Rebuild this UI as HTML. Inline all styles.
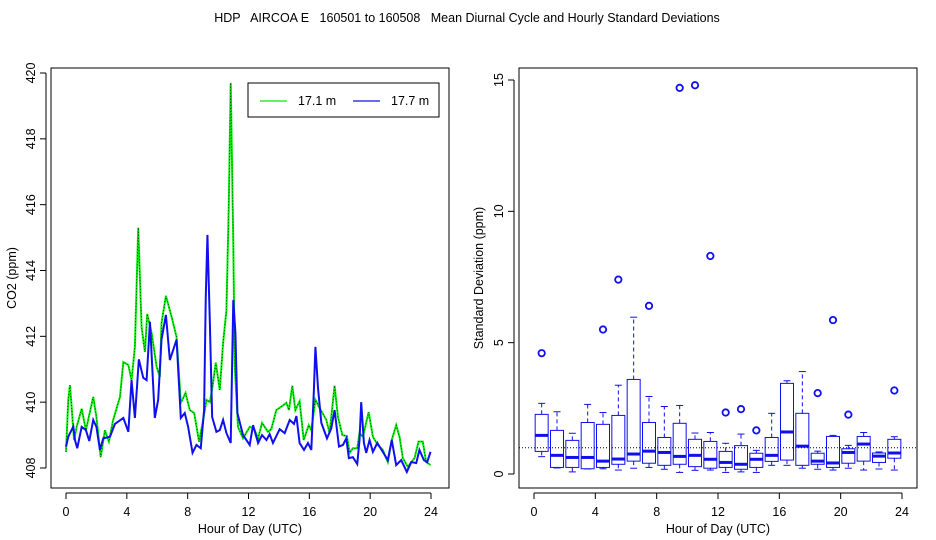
<!DOCTYPE html>
<html><head><meta charset="utf-8"><style>
html,body{margin:0;padding:0;background:#fff;}
svg{display:block;font-family:"Liberation Sans",Arial,sans-serif;}
</style></head><body>
<svg id="chart" width="936" height="540" viewBox="0 0 936 540">
<text x="467" y="22" font-size="12.5" text-anchor="middle" style="white-space:pre" xml:space="preserve">HDP   AIRCOA E   160501 to 160508   Mean Diurnal Cycle and Hourly Standard Deviations</text>
<g id="left"></g>
<g id="right"></g>
</svg>
<script>
const hoursG=[0,0.15,0.26,0.37,0.53,0.7,1.03,1.31,1.79,2.0,2.28,2.56,2.82,3.1,3.55,3.77,4.1,4.31,4.53,4.75,4.97,5.19,5.34,5.63,5.96,6.17,6.28,6.57,6.94,7.27,7.55,7.86,8.14,8.43,8.75,9.02,9.24,9.46,9.63,9.85,10.11,10.33,10.55,10.7,10.83,10.99,11.1,11.31,11.64,12.08,12.36,12.63,12.89,13.28,13.5,13.83,14.27,14.49,14.66,14.88,15.08,15.36,15.63,15.96,16.13,16.4,16.68,17.12,17.33,17.66,17.88,18.17,18.47,18.65,18.86,19.15,19.3,19.52,19.9,20.18,20.5,20.83,21.16,21.42,21.71,21.93,22.15,22.48,22.7,22.92,23.18,23.46,23.68,23.97];
const co2G=[408.49,410.07,410.52,409.85,408.85,409.25,409.8,409.15,410.16,409.55,408.33,409.15,408.8,409.46,410.16,411.22,411.13,410.67,411.68,415.3,412.28,411.53,412.68,412.1,411.07,410.77,412.4,413.23,412.6,411.98,409.98,410.28,409.76,409.67,408.8,409.46,410.07,410.0,410.46,411.2,410.37,411.8,412.8,415.9,419.7,415.14,411.07,409.25,408.9,409.25,409.2,408.9,409.37,409.1,409.18,409.76,409.9,409.98,409.76,410.5,409.76,410.03,408.85,409.3,409.15,410.07,409.82,409.46,409.06,410.5,409.55,409.0,408.97,408.46,408.6,408.6,409.06,408.95,409.7,408.95,408.7,408.55,408.18,408.85,409.3,408.95,408.3,408.03,408.18,408.3,408.8,408.8,408.18,408.09];
const hoursB=[0,0.15,0.48,0.59,0.74,1.03,1.31,1.53,1.79,2.0,2.23,2.45,2.89,3.22,3.77,4.1,4.31,4.53,4.79,5.08,5.3,5.52,5.84,6.06,6.28,6.57,6.83,7.27,7.55,7.81,8.03,8.32,8.58,8.86,9.08,9.19,9.3,9.46,9.61,9.89,10.11,10.33,10.55,10.83,11.0,11.14,11.27,11.64,12.08,12.3,12.63,12.89,13.18,13.39,13.61,14.05,14.38,14.71,14.99,15.15,15.36,15.65,15.91,16.13,16.3,16.4,16.57,16.79,17.16,17.44,17.66,17.95,18.21,18.43,18.6,18.86,19.15,19.3,19.41,19.59,19.74,19.96,20.18,20.47,20.83,21.16,21.42,21.71,22.04,22.41,22.7,23.03,23.24,23.53,23.75,23.97];
const co2B=[408.65,408.95,409.26,408.85,408.6,409.25,409.15,408.82,409.46,409.25,408.55,408.9,408.95,409.34,409.52,409.1,410.67,409.52,411.3,410.74,410.67,412.44,409.52,410.07,411.9,412.65,411.28,411.9,409.52,409.67,409.25,408.46,408.7,408.6,409.76,413.2,415.08,412.4,409.55,409.1,409.15,409.46,409.06,408.76,413.1,412.1,409.67,409.0,408.7,409.3,408.76,409.0,408.85,409.03,408.76,409.18,409.06,409.46,409.34,409.58,408.76,408.55,408.76,408.55,410.37,411.68,410.43,409.37,408.9,409.2,409.76,408.65,408.7,408.9,408.3,408.33,408.12,408.85,410.0,408.76,408.46,408.85,408.49,408.76,408.49,408.24,408.85,408.09,408.24,407.88,408.18,408.15,408.55,408.24,408.18,408.49];
const leftYTicks=[408,410,412,414,416,418,420];
const xTicks=[0,4,8,12,16,20,24];
const rightYTicks=[0,5,10,15];
const boxHours=[0.5,1.5,2.5,3.5,4.5,5.5,6.5,7.5,8.5,9.5,10.5,11.5,12.5,13.5,14.5,15.5,16.5,17.5,18.5,19.5,20.5,21.5,22.5,23.5];
const whiskLo=[0.66,0.23,0.08,0.19,0.2,0.15,0.22,0.25,0.18,0.06,0.14,0.15,0.06,0.08,0.06,0.33,0.33,0.22,0.18,0.15,0.22,0.15,0.19,0.15];
const q1=[0.86,0.25,0.25,0.2,0.25,0.37,0.49,0.41,0.33,0.37,0.28,0.22,0.25,0.18,0.25,0.48,0.53,0.33,0.37,0.25,0.41,0.49,0.44,0.6];
const medians=[1.47,0.71,0.63,0.63,0.49,0.57,0.76,0.87,0.82,0.67,0.71,0.56,0.44,0.37,0.56,0.71,1.6,1.06,0.49,0.42,0.82,1.14,0.68,0.8];
const q3=[2.27,1.66,1.28,1.96,1.89,2.23,3.6,1.96,1.39,1.93,1.32,1.24,0.86,1.08,0.79,1.39,3.45,2.31,0.79,1.43,0.96,1.43,0.8,1.32];
const whiskHi=[2.69,2.37,1.55,2.65,2.34,3.38,5.97,2.95,2.57,2.61,1.56,1.58,1.17,1.52,0.9,2.31,3.55,3.9,0.87,1.47,1.09,1.58,0.84,1.42];
const outlierHours=[0.5,4.5,5.5,7.5,9.5,10.5,11.5,12.5,13.5,14.5,18.5,19.5,20.5,23.5];
const outlierVals=[4.6,5.5,7.4,6.4,14.7,14.8,8.3,2.34,2.47,1.66,3.08,5.86,2.26,3.18];
const refLine=1.0;

const NS="http://www.w3.org/2000/svg";
function mk(parent,tag,attrs,txt){const e=document.createElementNS(NS,tag);for(const k in attrs)e.setAttribute(k,attrs[k]);if(txt!==undefined)e.textContent=txt;parent.appendChild(e);return e;}

// Left panel
const L=document.getElementById('left');
const lx=h=>66+h*(431-66)/24;
const ly=v=>468-(v-408)*(468-73)/12;
let f=mk(L,'rect',{x:51,y:68,width:398,height:420,fill:'none',stroke:'#000','stroke-width':1});

let ax=mk(L,'line',{x1:lx(0),x2:lx(24),y1:493,y2:493,stroke:'#000'});

xTicks.forEach(t=>{
 const tk=mk(L,'line',{x1:lx(t),x2:lx(t),y1:493,y2:499,stroke:'#000'});
 
 const tl=mk(L,'text',{x:lx(t),y:516,'font-size':12.5,'text-anchor':'middle'},String(t));
 
});
let ay=mk(L,'line',{x1:46,x2:46,y1:ly(408),y2:ly(420),stroke:'#000'});

leftYTicks.forEach(t=>{
 const tk=mk(L,'line',{x1:40,x2:46,y1:ly(t),y2:ly(t),stroke:'#000'});
 
 const tl=mk(L,'text',{x:0,y:0,'font-size':12.5,'text-anchor':'middle',transform:`translate(35,${ly(t)}) rotate(-90)`},String(t));
 
});
let xt=mk(L,'text',{x:250,y:533,'font-size':12.5,'text-anchor':'middle'},'Hour of Day (UTC)');

let yt=mk(L,'text',{x:0,y:0,'font-size':12.5,'text-anchor':'middle',transform:'translate(16,278) rotate(-90)'},'CO2 (ppm)');

let pg=mk(L,'polyline',{points:hoursG.map((h,i)=>lx(h)+','+ly(co2G[i])).join(' '),fill:'none',stroke:'#00ee00','stroke-width':2});

let pgd=mk(L,'polyline',{points:hoursG.map((h,i)=>lx(h)+','+ly(co2G[i])).join(' '),fill:'none',stroke:'#000','stroke-width':0.6,'stroke-dasharray':'1,2'});

let pb=mk(L,'polyline',{points:hoursB.map((h,i)=>lx(h)+','+ly(co2B[i])).join(' '),fill:'none',stroke:'#1010ee','stroke-width':2});

// legend
let lg=mk(L,'g',{});

let lb=mk(lg,'rect',{x:248,y:83,width:191,height:34,fill:'#fff',stroke:'#000'});

let l1=mk(lg,'line',{x1:260,x2:287,y1:101,y2:101,stroke:'#00ee00','stroke-width':1.2});

let t1=mk(lg,'text',{x:298,y:105,'font-size':12.5},'17.1 m');

let l2=mk(lg,'line',{x1:353,x2:380,y1:101,y2:101,stroke:'#1010ee','stroke-width':1.2});

let t2=mk(lg,'text',{x:391,y:105,'font-size':12.5},'17.7 m');


// Right panel
const R=document.getElementById('right');
const rx=h=>534+h*(902-534)/24;
const ry=v=>474-v*(474-80)/15;
let rf=mk(R,'rect',{x:519,y:68,width:398,height:420,fill:'none',stroke:'#000'});

let rax=mk(R,'line',{x1:rx(0),x2:rx(24),y1:493,y2:493,stroke:'#000'});

xTicks.forEach(t=>{
 const tk=mk(R,'line',{x1:rx(t),x2:rx(t),y1:493,y2:499,stroke:'#000'});
 
 const tl=mk(R,'text',{x:rx(t),y:516,'font-size':12.5,'text-anchor':'middle'},String(t));
 
});
let ray=mk(R,'line',{x1:514,x2:514,y1:ry(0),y2:ry(15),stroke:'#000'});

rightYTicks.forEach(t=>{
 const tk=mk(R,'line',{x1:508,x2:514,y1:ry(t),y2:ry(t),stroke:'#000'});
 
 const tl=mk(R,'text',{x:0,y:0,'font-size':12.5,'text-anchor':'middle',transform:`translate(503,${ry(t)}) rotate(-90)`},String(t));
 
});
let rxt=mk(R,'text',{x:718,y:533,'font-size':12.5,'text-anchor':'middle'},'Hour of Day (UTC)');

let ryt=mk(R,'text',{x:0,y:0,'font-size':12.5,'text-anchor':'middle',transform:'translate(483,278) rotate(-90)'},'Standard Deviation (ppm)');

let rl=mk(R,'line',{x1:519,x2:917,y1:ry(refLine),y2:ry(refLine),stroke:'#000','stroke-dasharray':'1,2'});

const C='#1010ee';
boxHours.forEach((h,i)=>{
 const g=mk(R,'g',{});
 
 
 const cx=rx(h),hw=6.5,cw=3.5;
 mk(g,'line',{x1:cx,x2:cx,y1:ry(q3[i]),y2:ry(whiskHi[i]),stroke:C,'stroke-dasharray':'4,3'});
 mk(g,'line',{x1:cx,x2:cx,y1:ry(q1[i]),y2:ry(whiskLo[i]),stroke:C,'stroke-dasharray':'4,3'});
 mk(g,'line',{x1:cx-cw,x2:cx+cw,y1:ry(whiskHi[i]),y2:ry(whiskHi[i]),stroke:C});
 mk(g,'line',{x1:cx-cw,x2:cx+cw,y1:ry(whiskLo[i]),y2:ry(whiskLo[i]),stroke:C});
 mk(g,'rect',{x:cx-hw,y:ry(q3[i]),width:2*hw,height:ry(q1[i])-ry(q3[i]),fill:'none',stroke:C});
 mk(g,'line',{x1:cx-hw,x2:cx+hw,y1:ry(medians[i]),y2:ry(medians[i]),stroke:C,'stroke-width':3});
});
outlierHours.forEach((h,i)=>{
 const c=mk(R,'circle',{cx:rx(h),cy:ry(outlierVals[i]),r:3.2,fill:'none',stroke:C,'stroke-width':1.8});
 
 
});
</script>
</body></html>
